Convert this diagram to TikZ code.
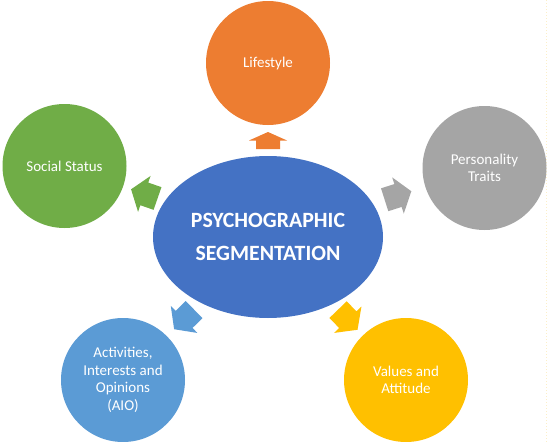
\documentclass[tikz,border=0pt]{standalone}
\usepackage{fontspec}
\setmainfont{Carlito}
\usetikzlibrary{shapes.geometric}
\definecolor{cgreen}{HTML}{70AD47}
\definecolor{corange}{HTML}{ED7D31}
\definecolor{cgray}{HTML}{A5A5A5}
\definecolor{cblue}{HTML}{5B9BD5}
\definecolor{cyellow}{HTML}{FFC000}
\definecolor{ccentral}{HTML}{4472C4}
\definecolor{cdot}{HTML}{FCEFC8}
\tikzset{
  topic/.style={circle, minimum size=124pt, inner sep=0pt, text=white, align=center,
    font=\fontsize{15}{17.5}\selectfont},
  core/.style={ellipse, minimum width=230pt, minimum height=162pt, inner sep=0pt,
    fill=ccentral, text=white, align=center, font=\fontsize{21.8}{33}\selectfont\bfseries}
}
% #1 colour, #2 back end, #3 barb position, #4 tip (all in pt along the arrow)
\newcommand{\blockarrowshape}[4]{%
  \fill[#1] (#2pt,-12pt) -- (#3pt,-12pt) -- (#3pt,-19pt) -- (#4pt,0pt) --
    (#3pt,19pt) -- (#3pt,12pt) -- (#2pt,12pt) -- cycle;}
\begin{document}
\begin{tikzpicture}[x=1pt,y=-1pt]
\useasboundingbox (0,0) rectangle (550,442);
\fill[white] (0,0) rectangle (550,442);
\draw[cdot, dotted, line width=1pt] (546,0) -- (546,442);

\node[core] (core) at (268,237) {PSYCHOGRAPHIC\\SEGMENTATION};

\node[topic, fill=corange] (life) at (268,63) {Lifestyle};
\node[topic, fill=cgreen] (social) at (64.5,166) {Social Status};
\node[topic, fill=cgray] (pers) at (484.5,168) {Personality\\Traits};
\node[topic, fill=cblue] (aio) at (123,380) {Activities,\\Interests and\\Opinions\\(AIO)};
\node[topic, fill=cyellow] (vals) at (406,380) {Values and\\Attitude};

\begin{scope}[shift={(268,140.5)}, rotate=90]\blockarrowshape{corange}{-8.5}{0}{8.5}\end{scope}
\begin{scope}[shift={(144.3,193.9)}, rotate=160.8]\blockarrowshape{cgreen}{-14}{0}{14}\end{scope}
\begin{scope}[shift={(398,195.5)}, rotate=17.7]\blockarrowshape{cgray}{-14}{0}{14}\end{scope}
\begin{scope}[shift={(184.1,319.4)}, rotate=224.5]\blockarrowshape{cblue}{-14}{0}{14}\end{scope}
\begin{scope}[shift={(347.8,319.7)}, rotate=-46]\blockarrowshape{cyellow}{-14}{0}{14}\end{scope}
\end{tikzpicture}
\end{document}
